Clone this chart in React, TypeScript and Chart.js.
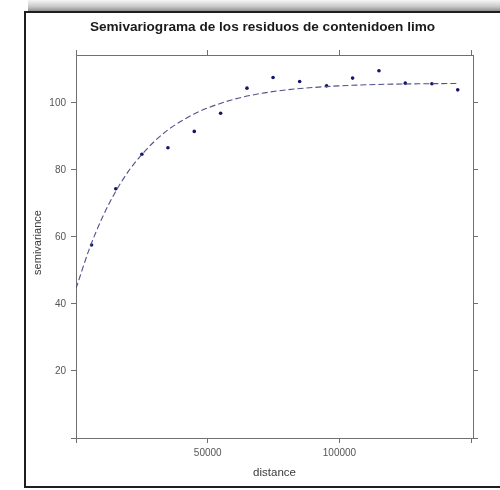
import React, { useEffect, useRef } from "react";
import { Chart, registerables } from "chart.js";

Chart.register(...registerables);

// Empirical semivariogram (bin mean distance, semivariance)
const distances = [5900, 15100, 25000, 34900, 44900, 54900, 64900, 74800, 84900, 95100, 105000, 115000, 125000, 135100, 144900];
const gammaValues = [57.6, 74.4, 84.7, 86.6, 91.5, 96.9, 104.4, 107.6, 106.4, 105.1, 107.4, 109.6, 105.9, 105.7, 103.9];

// Fitted model line
const modelDistances = [0, 5000, 10000, 15000, 20000, 25000, 30000, 35000, 40000, 45000, 50000, 60000, 70000, 80000, 90000, 100000, 110000, 120000, 130000, 145000];
const modelValues = [44.6, 56.3, 65.8, 73.5, 79.7, 84.6, 88.7, 92.0, 94.6, 96.8, 98.5, 101.1, 102.8, 103.9, 104.6, 105.1, 105.4, 105.6, 105.7, 105.8];

const xTicks = [0, 50000, 100000, 150000];
const xTickLabels = ["", "50000", "100000", ""];
const yTicks = [0, 20, 40, 60, 80, 100];
const yTickLabels = ["", "20", "40", "60", "80", "100"];

const titleText = "Semivariograma de los residuos de contenidoen limo";
const xTitle = "distance";
const yTitle = "semivariance";

const X_MIN = 0;
const X_MAX = 150700;
const Y_MIN = 0;
const Y_MAX = 114.3;

const FONT = "'Liberation Sans', Arial, sans-serif";
const AXIS_COLOR = "#707070";

const framePlugin = {
  id: "framePlugin",
  beforeDraw(chart: any) {
    const ctx = chart.ctx;
    const w = chart.width;
    const h = chart.height;
    ctx.save();
    ctx.fillStyle = "#ffffff";
    ctx.fillRect(0, 0, w, h);
    // top shadow
    const g = ctx.createLinearGradient(0, 0, 0, 11);
    g.addColorStop(0, "#f6f6f6");
    g.addColorStop(0.6, "#c8c8c8");
    g.addColorStop(1, "#909090");
    ctx.fillStyle = g;
    ctx.fillRect(28, 0, w - 28, 11);
    // frame
    ctx.strokeStyle = "#1e1e1e";
    ctx.lineWidth = 2;
    ctx.beginPath();
    ctx.moveTo(w + 5, 12);
    ctx.lineTo(25, 12);
    ctx.lineTo(25, 487);
    ctx.lineTo(w + 5, 487);
    ctx.stroke();
    ctx.restore();
  },
  afterDraw(chart: any) {
    const ctx = chart.ctx;
    const area = chart.chartArea;
    ctx.save();
    ctx.fillStyle = "#1a1a1a";
    ctx.font = `bold 13.6px ${FONT}`;
    ctx.textAlign = "center";
    ctx.textBaseline = "middle";
    ctx.fillText(titleText, 262.5, 27);

    ctx.fillStyle = "#3a3a3a";
    ctx.font = `11.5px ${FONT}`;
    ctx.fillText(xTitle, (area.left + area.right) / 2, 473);

    ctx.translate(38, (area.top + area.bottom) / 2 - 4);
    ctx.rotate(-Math.PI / 2);
    ctx.font = `11px ${FONT}`;
    ctx.fillText(yTitle, 0, 0);
    ctx.restore();
  },
};

function fixTicks(values: number[]) {
  return (scale: any) => {
    scale.ticks = values.map((v) => ({ value: v }));
  };
}

export default function App() {
  const ref = useRef<HTMLCanvasElement | null>(null);

  useEffect(() => {
    if (!ref.current) return;
    const grid = {
      drawOnChartArea: false,
      drawTicks: true,
      tickLength: 5,
      color: AXIS_COLOR,
      lineWidth: 1,
    };
    const border = { display: true, color: AXIS_COLOR, width: 1 };
    const tickFont = { family: FONT, size: 10 };

    const chart = new Chart(ref.current, {
      type: "scatter",
      data: {
        datasets: [
          {
            label: "model",
            data: modelDistances.map((d, i) => ({ x: d, y: modelValues[i] })),
            showLine: true,
            borderColor: "#50508a",
            borderWidth: 1.1,
            borderDash: [6, 3],
            pointRadius: 0,
            cubicInterpolationMode: "monotone",
            xAxisID: "x",
            yAxisID: "y",
          },
          {
            label: "semivariance",
            data: distances.map((d, i) => ({ x: d, y: gammaValues[i] })),
            showLine: false,
            pointRadius: 1.8,
            pointBackgroundColor: "#14146a",
            pointBorderColor: "#14146a",
            pointBorderWidth: 0,
            xAxisID: "x",
            yAxisID: "y",
          },
        ],
      },
      options: {
        responsive: false,
        animation: false,
        layout: { padding: 0 },
        plugins: {
          legend: { display: false },
          title: { display: false },
          tooltip: { enabled: false },
        },
        scales: {
          x: {
            type: "linear",
            position: "bottom",
            min: X_MIN,
            max: X_MAX,
            afterBuildTicks: fixTicks(xTicks),
            afterFit: (s: any) => {
              s.height = 52;
            },
            grid,
            border,
            ticks: {
              font: tickFont,
              color: "#555555",
              padding: 4,
              maxRotation: 0,
              autoSkip: false,
              callback: (v: any) => {
                const i = xTicks.indexOf(Number(v));
                return i >= 0 ? xTickLabels[i] : "";
              },
            },
          },
          x2: {
            type: "linear",
            position: "top",
            min: X_MIN,
            max: X_MAX,
            afterBuildTicks: fixTicks(xTicks),
            afterFit: (s: any) => {
              s.height = 55;
            },
            grid,
            border,
            ticks: { display: true, callback: () => "", autoSkip: false },
          },
          y: {
            type: "linear",
            position: "left",
            min: Y_MIN,
            max: Y_MAX,
            afterBuildTicks: fixTicks(yTicks),
            afterFit: (s: any) => {
              s.width = 76;
            },
            grid,
            border,
            ticks: {
              font: tickFont,
              color: "#555555",
              padding: 5,
              autoSkip: false,
              callback: (v: any) => {
                const i = yTicks.indexOf(Number(v));
                return i >= 0 ? yTickLabels[i] : "";
              },
            },
          },
          y2: {
            type: "linear",
            position: "right",
            min: Y_MIN,
            max: Y_MAX,
            afterBuildTicks: fixTicks(yTicks),
            afterFit: (s: any) => {
              s.width = 27;
            },
            grid,
            border,
            ticks: { display: true, callback: () => "", autoSkip: false },
          },
        },
      },
      plugins: [framePlugin],
    } as any);

    return () => chart.destroy();
  }, []);

  return (
    <div style={{ position: "absolute", left: 0, top: 0, width: 500, height: 490, background: "#fff" }}>
      <canvas ref={ref} width={500} height={490} style={{ display: "block", width: 500, height: 490 }} />
    </div>
  );
}
